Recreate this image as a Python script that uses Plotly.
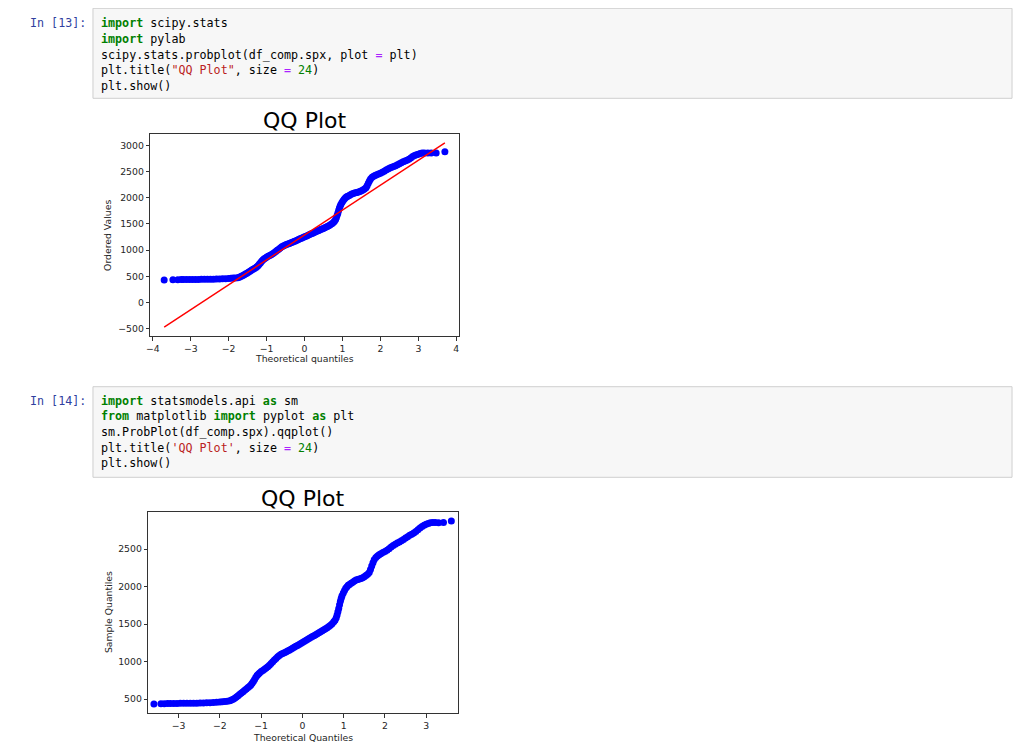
import plotly.graph_objects as go

# ---------------- data ----------------
sm_low_tail = [-3.60, -3.43, -3.35, -3.27]
scipy_low_tail = [-3.70, -3.47, -3.34, -3.25]
middle_quantiles = [
    -3.20, -3.12, -3.04, -2.96, -2.88, -2.80, -2.72, -2.64, -2.56, -2.48,
    -2.40, -2.32, -2.24, -2.16, -2.08, -2.00, -1.94, -1.88, -1.82, -1.76,
    -1.72, -1.68, -1.64, -1.60, -1.56, -1.52, -1.48, -1.44, -1.40, -1.36,
    -1.32, -1.28, -1.25, -1.22, -1.19, -1.16, -1.13, -1.10, -1.07, -1.04,
    -1.00, -0.96, -0.92, -0.88, -0.84, -0.80, -0.76, -0.72, -0.68, -0.64,
    -0.60, -0.56, -0.52, -0.48, -0.44, -0.40, -0.36, -0.32, -0.28, -0.24,
    -0.20, -0.16, -0.12, -0.08, -0.04, 0.00, 0.04, 0.08, 0.12, 0.16,
    0.20, 0.24, 0.28, 0.32, 0.36, 0.40, 0.44, 0.48, 0.52, 0.56,
    0.60, 0.64, 0.68, 0.72, 0.76, 0.79, 0.82, 0.84, 0.86, 0.88,
    0.90, 0.92, 0.94, 0.96, 0.99, 1.02, 1.05, 1.08, 1.11, 1.14,
    1.18, 1.22, 1.26, 1.30, 1.34, 1.38, 1.42, 1.46, 1.50, 1.54,
    1.58, 1.62, 1.65, 1.68, 1.71, 1.74, 1.78, 1.82, 1.86, 1.90,
    1.95, 2.00, 2.05, 2.10, 2.15, 2.20, 2.25, 2.30, 2.35, 2.40,
    2.45, 2.50, 2.55, 2.60, 2.65, 2.70, 2.75, 2.80, 2.85, 2.90,
    2.95, 3.00, 3.05, 3.10, 3.16,
]
sm_high_tail = [3.22, 3.30, 3.42, 3.61]
scipy_high_tail = [3.25, 3.34, 3.47, 3.70]

sample_values = [
    433, 437, 438, 439,
    440, 440, 441, 442, 442, 442, 443, 443, 444, 446,
    447, 449, 451, 454, 457, 460, 463, 467, 471, 476,
    485, 497, 510, 527, 545, 562, 580, 598, 616, 634,
    652, 670, 688, 710, 735, 762, 790, 814, 832, 848,
    866, 882, 898, 914, 932, 952, 975, 998, 1020, 1042,
    1063, 1082, 1096, 1106, 1116, 1128, 1140, 1152, 1164, 1177,
    1190, 1203, 1216, 1229, 1242, 1255, 1268, 1281, 1294, 1307,
    1320, 1333, 1346, 1359, 1372, 1385, 1398, 1410, 1423, 1437,
    1452, 1468, 1486, 1506, 1530, 1553, 1585, 1622, 1665, 1710,
    1760, 1805, 1845, 1878, 1915, 1950, 1978, 2000, 2018, 2030,
    2045, 2060, 2075, 2088, 2096, 2102, 2110, 2120, 2132, 2148,
    2165, 2190, 2230, 2275, 2320, 2360, 2390, 2410, 2425, 2440,
    2455, 2468, 2485, 2505, 2528, 2550, 2568, 2582, 2598, 2612,
    2630, 2650, 2668, 2685, 2700, 2715, 2735, 2760, 2785, 2805,
    2820, 2832, 2845, 2852, 2856,
    2856, 2855, 2856, 2877,
]

fit_slope = 474.7
fit_intercept = 1289.5

plot1_yticks = [-500, 0, 500, 1000, 1500, 2000, 2500, 3000]
plot1_xticks = [-4, -3, -2, -1, 0, 1, 2, 3, 4]
plot2_yticks = [500, 1000, 1500, 2000, 2500]
plot2_xticks = [-3, -2, -1, 0, 1, 2, 3]

cell1_prompt = "In [13]:"
cell1_lines = [
    '<b><span style="color:#008000">import</span></b> scipy.stats',
    '<b><span style="color:#008000">import</span></b> pylab',
    'scipy.stats.probplot(df_comp.spx, plot <span style="color:#AA22FF">=</span> plt)',
    'plt.title(<span style="color:#BA2121">"QQ Plot"</span>, size <span style="color:#AA22FF">=</span> <span style="color:#008000">24</span>)',
    'plt.show()',
]
cell2_prompt = "In [14]:"
cell2_lines = [
    '<b><span style="color:#008000">import</span></b> statsmodels.api <b><span style="color:#008000">as</span></b> sm',
    '<b><span style="color:#008000">from</span></b> matplotlib <b><span style="color:#008000">import</span></b> pyplot <b><span style="color:#008000">as</span></b> plt',
    'sm.ProbPlot(df_comp.spx).qqplot()',
    'plt.title(<span style="color:#BA2121">\'QQ Plot\'</span>, size <span style="color:#AA22FF">=</span> <span style="color:#008000">24</span>)',
    'plt.show()',
]

# ---------------- layout helpers ----------------
# The page body has an 8px margin, so the figure is drawn at (8, 8).
OFF = 8
W, H = 1024 - 2 * OFF, 752 - 2 * OFF


def px(x):
    return (x - OFF) / W


def py(y):
    return 1 - (y - OFF) / H


quant_scipy = scipy_low_tail + middle_quantiles + scipy_high_tail
quant_sm = sm_low_tail + middle_quantiles + sm_high_tail
line_x = [min(quant_scipy), max(quant_scipy)]
line_y = [fit_intercept + fit_slope * v for v in line_x]

fig = go.Figure()
fig.add_trace(go.Scatter(x=quant_scipy, y=sample_values, mode="markers",
                         marker=dict(color="#0000ff", size=7, line=dict(width=0)),
                         xaxis="x", yaxis="y", showlegend=False, hoverinfo="skip"))
fig.add_trace(go.Scatter(x=line_x, y=line_y, mode="lines",
                         line=dict(color="#ff0000", width=1.4),
                         xaxis="x", yaxis="y", showlegend=False, hoverinfo="skip"))
fig.add_trace(go.Scatter(x=quant_sm, y=sample_values, mode="markers",
                         marker=dict(color="#0000ff", size=7, line=dict(width=0)),
                         xaxis="x2", yaxis="y2", showlegend=False, hoverinfo="skip"))

tickfont = dict(family="DejaVu Sans", size=9.3, color="#262626")
axis_common = dict(showgrid=False, zeroline=False, showline=True, mirror=True,
                   linecolor="#333333", linewidth=0.9, ticks="outside",
                   ticklen=3.5, tickwidth=0.9, tickcolor="#333333",
                   tickfont=tickfont, fixedrange=True)

p1 = dict(l=146.7, r=456.7, t=133.7, b=336.3)
p2 = dict(l=144.7, r=455.3, t=511.7, b=713.3)

fig.update_layout(
    width=W, height=H, margin=dict(l=0, r=0, t=0, b=0),
    paper_bgcolor="white", plot_bgcolor="white",
    xaxis=dict(domain=[px(p1["l"]), px(p1["r"])], range=[-4.07, 4.07],
               tickvals=plot1_xticks, anchor="y", **axis_common),
    yaxis=dict(domain=[py(p1["b"]), py(p1["t"])], range=[-643, 3222],
               tickvals=plot1_yticks, anchor="x", **axis_common),
    xaxis2=dict(domain=[px(p2["l"]), px(p2["r"])], range=[-3.74, 3.76],
                tickvals=plot2_xticks, anchor="y2", **axis_common),
    yaxis2=dict(domain=[py(p2["b"]), py(p2["t"])], range=[309, 3001],
                tickvals=plot2_yticks, anchor="x2", **axis_common),
)

shapes = []
annotations = []
code_font = dict(family="DejaVu Sans Mono", size=11.7, color="#000000")
prompt_font = dict(family="DejaVu Sans Mono", size=11.7, color="#303F9F")


def add_cell(top, bottom, prompt, lines, first_y):
    shapes.append(dict(type="rect", xref="paper", yref="paper",
                       x0=px(89.3), x1=px(1012), y0=py(bottom), y1=py(top),
                       fillcolor="#f7f7f7", line=dict(color="#cfcfcf", width=1),
                       layer="below"))
    annotations.append(dict(text=prompt, xref="paper", yref="paper",
                            x=px(84), y=py(first_y), xanchor="right", yanchor="middle",
                            showarrow=False, font=prompt_font))
    for i, t in enumerate(lines):
        annotations.append(dict(text=t, xref="paper", yref="paper",
                                x=px(95), y=py(first_y + i * 15.65),
                                xanchor="left", yanchor="middle",
                                showarrow=False, font=code_font))


add_cell(8.3, 98.3, cell1_prompt, cell1_lines, 23.3)
add_cell(386.7, 477.3, cell2_prompt, cell2_lines, 400.7)

title_font = dict(family="DejaVu Sans", size=22, color="#000000")
label_font = dict(family="DejaVu Sans", size=9.3, color="#262626")
for (cx, cy) in [((p1["l"] + p1["r"]) / 2, 121), ((p2["l"] + p2["r"]) / 2, 498)]:
    annotations.append(dict(text="QQ Plot", xref="paper", yref="paper", x=px(cx), y=py(cy),
                            xanchor="center", yanchor="middle", showarrow=False, font=title_font))

annotations.append(dict(text="Theoretical quantiles", xref="paper", yref="paper",
                        x=px((p1["l"] + p1["r"]) / 2), y=py(358.3), xanchor="center",
                        yanchor="middle", showarrow=False, font=label_font))
annotations.append(dict(text="Ordered Values", xref="paper", yref="paper",
                        x=px(103.3), y=py((p1["t"] + p1["b"]) / 2), xanchor="center",
                        yanchor="middle", showarrow=False, textangle=-90, font=label_font))
annotations.append(dict(text="Theoretical Quantiles", xref="paper", yref="paper",
                        x=px((p2["l"] + p2["r"]) / 2), y=py(737.3), xanchor="center",
                        yanchor="middle", showarrow=False, font=label_font))
annotations.append(dict(text="Sample Quantiles", xref="paper", yref="paper",
                        x=px(105), y=py((p2["t"] + p2["b"]) / 2), xanchor="center",
                        yanchor="middle", showarrow=False, textangle=-90, font=label_font))

fig.update_layout(shapes=shapes, annotations=annotations)
fig.write_html("out.html", config={"displayModeBar": False})
